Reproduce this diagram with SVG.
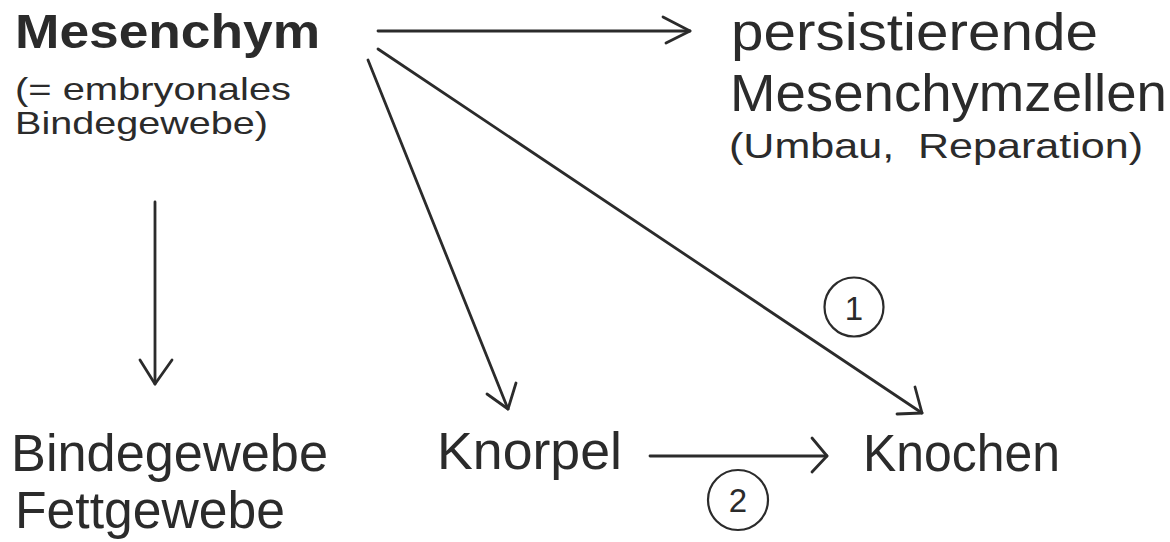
<svg xmlns="http://www.w3.org/2000/svg" width="1170" height="542" viewBox="0 0 1170 542">
  <style>
    text { font-family: "Liberation Sans", Arial, sans-serif; fill: #2b2b2b; white-space: pre; }
    .title { font-size: 48px; font-weight: bold; }
    .big { font-size: 51px; }
    .small { font-size: 32px; }
    .note { font-size: 35px; }
    .num { font-size: 33px; text-anchor: middle; }
    .edge { fill: none; stroke: #2b2b2b; stroke-width: 2.8; stroke-linecap: round; stroke-linejoin: round; }
    .ring { fill: none; stroke: #2b2b2b; stroke-width: 2.2; }
  </style>
  <rect width="1170" height="542" fill="#ffffff"/>

  <g id="mesenchym">
    <text class="title" x="15" y="48" textLength="305" lengthAdjust="spacingAndGlyphs">Mesenchym</text>
    <text class="small" x="15" y="100" textLength="276" lengthAdjust="spacingAndGlyphs">(= embryonales</text>
    <text class="small" x="15" y="134" textLength="253" lengthAdjust="spacingAndGlyphs">Bindegewebe)</text>
  </g>

  <g id="persistierende">
    <text class="big" x="731" y="50" textLength="367" lengthAdjust="spacingAndGlyphs">persistierende</text>
    <text class="big" x="730" y="111" textLength="437" lengthAdjust="spacingAndGlyphs">Mesenchymzellen</text>
    <text class="note" x="729" y="158" textLength="414" lengthAdjust="spacingAndGlyphs">(Umbau,  Reparation)</text>
  </g>

  <g id="bindegewebe">
    <text class="big" x="11" y="471" textLength="317" lengthAdjust="spacingAndGlyphs">Bindegewebe</text>
    <text class="big" x="15" y="528" textLength="270" lengthAdjust="spacingAndGlyphs">Fettgewebe</text>
  </g>

  <g id="knorpel">
    <text class="big" x="437" y="469" textLength="185" lengthAdjust="spacingAndGlyphs">Knorpel</text>
  </g>

  <g id="knochen">
    <text class="big" x="863" y="471" textLength="197" lengthAdjust="spacingAndGlyphs">Knochen</text>
  </g>

  <g id="marker-1">
    <circle class="ring" cx="854" cy="307" r="29.5"/>
    <text class="num" x="854" y="320">1</text>
  </g>

  <g id="marker-2">
    <circle class="ring" cx="738" cy="500" r="30"/>
    <text class="num" x="738" y="512">2</text>
  </g>

  <g id="connectors">
    <!-- Mesenchym to persistent cells -->
    <line class="edge" x1="378" y1="31" x2="690" y2="31"/>
    <polyline class="edge" points="663,17 690,31 666,43"/>
    <!-- Mesenchym to Bindegewebe / Fettgewebe -->
    <line class="edge" x1="155" y1="202" x2="155" y2="384"/>
    <polyline class="edge" points="140,360 155,384 172,360"/>
    <!-- Mesenchym to Knorpel -->
    <line class="edge" x1="368" y1="60" x2="508" y2="409"/>
    <polyline class="edge" points="487,394 508,409 516,383"/>
    <!-- Mesenchym to Knochen (path 1) -->
    <line class="edge" x1="378" y1="49" x2="922" y2="413"/>
    <polyline class="edge" points="915,387 922,413 897,414"/>
    <!-- Knorpel to Knochen (path 2) -->
    <line class="edge" x1="650" y1="456" x2="827" y2="456"/>
    <polyline class="edge" points="812,438 827,456 812,472"/>
  </g>
</svg>
